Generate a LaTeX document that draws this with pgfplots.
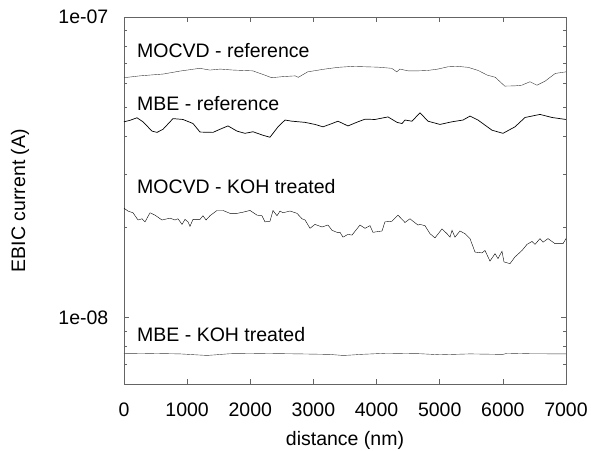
\documentclass[border=0pt]{standalone}
\usepackage{fontspec}
\setmainfont{Liberation Sans}
\usepackage{pgfplots}
\pgfplotsset{compat=1.18}
\definecolor{frame}{RGB}{100,100,100}
\definecolor{trace}{RGB}{55,55,55}

\begin{document}
\fontsize{19.5}{22}\selectfont
\begin{tikzpicture}
\path[use as bounding box] (-124pt,-66pt) rectangle (467pt,384pt);
\begin{axis}[
  at={(0pt,0pt)},anchor=south west,
  scale only axis,
  width=442pt,height=367pt,
  xmin=0,xmax=7000,
  ymode=log,ymin=6e-9,ymax=1e-7,
  xtick={0,1000,2000,3000,4000,5000,6000,7000},
  xticklabels={0,1000,2000,3000,4000,5000,6000,7000},
  ytick={1e-8,1e-7},
  yticklabels={1e-08,1e-07},
  minor ytick={6e-9,7e-9,8e-9,9e-9,2e-8,3e-8,4e-8,5e-8,6e-8,7e-8,8e-8,9e-8},
  tick align=inside,
  major tick length=5pt,
  minor tick length=3pt,
  axis line style={frame,line width=0.8pt},
  every tick/.style={frame,line width=0.6pt},
  xticklabel style={yshift=-12pt},
  yticklabel style={xshift=-9pt},
  xlabel={distance (nm)},
  ylabel={EBIC current (A)},
  xlabel style={at={(axis description cs:0.5,-0.153)},anchor=center},
  ylabel style={at={(axis description cs:-0.235,0.5)},anchor=center},
  cycle list={{trace,line width=0.7pt,no marks}},
]
% MOCVD - reference
\addplot coordinates {
(0,6.28e-8)(250,6.37e-8)(620,6.46e-8)(890,6.61e-8)(1200,6.75e-8)(1360,6.66e-8)
(1520,6.71e-8)(1730,6.66e-8)(2040,6.62e-8)(2200,6.44e-8)(2340,6.28e-8)(2500,6.33e-8)
(2710,6.37e-8)(2760,6.30e-8)(2910,6.57e-8)(3180,6.71e-8)(3390,6.80e-8)(3610,6.85e-8)
(3820,6.83e-8)(4020,6.81e-8)(4240,6.75e-8)(4320,6.57e-8)(4370,6.71e-8)(4500,6.62e-8)
(4660,6.62e-8)(4810,6.64e-8)(4970,6.71e-8)(5130,6.83e-8)(5290,6.85e-8)(5450,6.80e-8)
(5610,6.64e-8)(5750,6.41e-8)(5880,6.30e-8)(6030,5.89e-8)(6190,5.90e-8)(6300,5.93e-8)
(6430,6.09e-8)(6540,5.93e-8)(6670,6.12e-8)(6830,6.49e-8)(7000,6.57e-8)
};
% MBE - reference
\addplot coordinates {
(0,4.48e-8)(95,4.53e-8)(206,4.62e-8)(301,4.48e-8)(443,4.17e-8)(523,4.13e-8)
(618,4.23e-8)(776,4.59e-8)(934,4.56e-8)(1093,4.42e-8)(1204,4.14e-8)(1409,4.13e-8)
(1520,4.23e-8)(1647,4.34e-8)(1790,4.17e-8)(1916,4.10e-8)(2043,4.15e-8)(2201,4.04e-8)
(2312,3.98e-8)(2439,4.31e-8)(2550,4.54e-8)(2661,4.50e-8)(2866,4.46e-8)(3025,4.39e-8)
(3152,4.31e-8)(3294,4.42e-8)(3389,4.50e-8)(3547,4.34e-8)(3706,4.48e-8)(3817,4.57e-8)
(3975,4.56e-8)(4181,4.65e-8)(4324,4.46e-8)(4403,4.42e-8)(4450,4.54e-8)(4561,4.50e-8)
(4688,4.80e-8)(4814,4.50e-8)(5004,4.39e-8)(5195,4.48e-8)(5369,4.54e-8)(5480,4.68e-8)
(5606,4.54e-8)(5828,4.20e-8)(6002,4.10e-8)(6192,4.31e-8)(6351,4.63e-8)(6588,4.74e-8)
(6778,4.63e-8)(7000,4.56e-8)
};
% MOCVD - KOH treated
\addplot coordinates {
(0,2.31e-8)(63,2.26e-8)(143,2.23e-8)(222,2.11e-8)(285,2.13e-8)(333,2.08e-8)
(412,2.23e-8)(491,2.19e-8)(602,2.11e-8)(729,2.14e-8)(808,2.11e-8)(855,2.13e-8)
(919,2.04e-8)(966,2.12e-8)(1014,2.08e-8)(1045,2.01e-8)(1093,2.12e-8)(1204,2.12e-8)
(1251,2.18e-8)(1299,2.11e-8)(1362,2.18e-8)(1473,2.27e-8)(1568,2.27e-8)(1679,2.22e-8)
(1790,2.22e-8)(1885,2.24e-8)(1995,2.27e-8)(2106,2.19e-8)(2185,2.18e-8)(2233,2.08e-8)
(2312,2.09e-8)(2360,2.27e-8)(2423,2.18e-8)(2471,2.26e-8)(2518,2.23e-8)(2629,2.26e-8)
(2740,2.22e-8)(2819,2.13e-8)(2867,2.11e-8)(2946,1.98e-8)(3025,2.04e-8)(3136,2.00e-8)
(3231,2.03e-8)(3294,1.95e-8)(3373,1.92e-8)(3421,1.92e-8)(3468,1.85e-8)(3547,1.89e-8)
(3611,1.88e-8)(3737,2.03e-8)(3817,1.98e-8)(3896,2.02e-8)(3943,1.92e-8)(4086,1.94e-8)
(4133,2.08e-8)(4244,2.09e-8)(4339,2.19e-8)(4450,2.07e-8)(4529,2.13e-8)(4577,2.09e-8)
(4656,2.03e-8)(4688,2.04e-8)(4767,2.02e-8)(4846,1.90e-8)(4925,1.84e-8)(5036,1.97e-8)
(5115,1.90e-8)(5163,1.85e-8)(5195,1.95e-8)(5242,1.85e-8)(5321,1.94e-8)(5400,1.90e-8)
(5480,1.83e-8)(5559,1.65e-8)(5670,1.64e-8)(5717,1.67e-8)(5796,1.54e-8)(5876,1.63e-8)
(5923,1.57e-8)(5986,1.66e-8)(6018,1.53e-8)(6113,1.51e-8)(6192,1.59e-8)(6303,1.67e-8)
(6382,1.75e-8)(6461,1.79e-8)(6509,1.75e-8)(6588,1.83e-8)(6636,1.78e-8)(6715,1.83e-8)
(6826,1.76e-8)(6953,1.76e-8)(7000,1.83e-8)
};
% MBE - KOH treated
\addplot coordinates {
(0,7.57e-9)(412,7.59e-9)(887,7.56e-9)(1315,7.47e-9)(1679,7.57e-9)(2154,7.59e-9)
(2787,7.56e-9)(3262,7.53e-9)(3468,7.47e-9)(3579,7.49e-9)(3737,7.53e-9)(4165,7.60e-9)
(4688,7.57e-9)(5004,7.51e-9)(5480,7.56e-9)(6002,7.53e-9)(6066,7.60e-9)(6430,7.57e-9)
(7000,7.56e-9)
};
\node[anchor=base west,inner sep=0pt] at (rel axis cs:0.0294,0.891) {MOCVD - reference};
\node[anchor=base west,inner sep=0pt] at (rel axis cs:0.0294,0.7466) {MBE - reference};
\node[anchor=base west,inner sep=0pt] at (rel axis cs:0.0294,0.5204) {MOCVD - KOH treated};
\node[anchor=base west,inner sep=0pt] at (rel axis cs:0.0294,0.1153) {MBE - KOH treated};
\end{axis}
\end{tikzpicture}
\end{document}
